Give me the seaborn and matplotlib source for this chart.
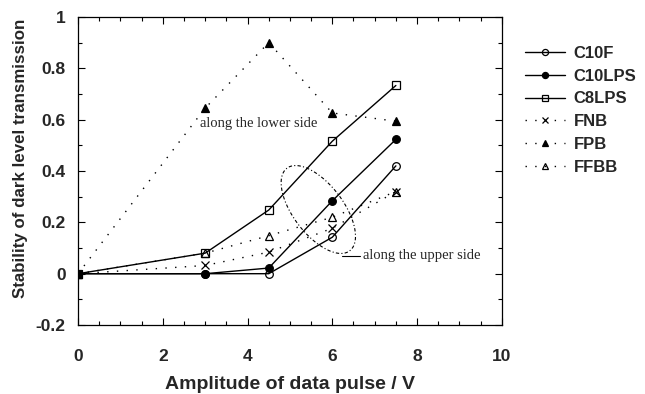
import numpy as np
import pandas as pd
import matplotlib
matplotlib.use("Agg")
import matplotlib.pyplot as plt
import seaborn as sns
from matplotlib.ticker import MultipleLocator

# Pulse amplitudes (V)
amplitude = [0.0, 3.0, 4.5, 6.0, 7.5]

# Stability of dark level transmission for each cell
c10f = [0.0, 0.0, 0.0, 0.142, 0.42]
c10lps = [0.0, 0.0, 0.022, 0.284, 0.523]
c8lps = [0.0, 0.08, 0.248, 0.516, 0.733]
fnb = [0.0, 0.032, 0.084, 0.177, 0.32]
fpb = [0.0, 0.645, 0.90, 0.626, 0.594]
ffbb = [0.0, 0.08, 0.148, 0.22, 0.32]

series_names = ["C10F", "C10LPS", "C8LPS", "FNB", "FPB", "FFBB"]
series_values = [c10f, c10lps, c8lps, fnb, fpb, ffbb]

dotted = (0, (1, 6))
styles = {
    "C10F":   dict(marker="o", mfc="none", ls="-"),
    "C10LPS": dict(marker="o", mfc="black", ls="-"),
    "C8LPS":  dict(marker="s", mfc="none", ls="-"),
    "FNB":    dict(marker="x", mfc="black", ls=dotted),
    "FPB":    dict(marker="^", mfc="black", ls=dotted),
    "FFBB":   dict(marker="^", mfc="none", ls=dotted),
}

df = pd.DataFrame({
    "amplitude": np.tile(amplitude, len(series_names)),
    "stability": np.concatenate(series_values),
    "cell": np.repeat(series_names, len(amplitude)),
})

sns.set_theme(style="ticks")
plt.rcParams["font.family"] = ["Liberation Sans", "DejaVu Sans"]

fig = plt.figure(figsize=(6.45, 3.94), dpi=100)
ax = fig.add_axes([0.121, 0.175, 0.657, 0.782])

for name in series_names:
    st = styles[name]
    sub = df[df["cell"] == name]
    sns.lineplot(data=sub, x="amplitude", y="stability", ax=ax, color="black",
                 linewidth=1.0, linestyle=st["ls"], marker=st["marker"],
                 markersize=5.5, markerfacecolor=st["mfc"],
                 markeredgecolor="black", markeredgewidth=0.9,
                 label=name, sort=False)

# Dotted ellipse grouping the points measured along the upper side
cx, cy = 5.67, 0.25
sx, sy = 42.3, 258.0  # px per data unit, so the ellipse is shaped in screen space
t = np.linspace(0, 2 * np.pi, 200)
a, b, th = 52.0, 25.0, np.deg2rad(-53)
ex = a * np.cos(t) * np.cos(th) - b * np.sin(t) * np.sin(th)
ey = a * np.cos(t) * np.sin(th) + b * np.sin(t) * np.cos(th)
ax.plot(cx + ex / sx, cy + ey / sy, color="black", lw=0.8, ls=(0, (1, 2, 3, 2)))
ax.plot([6.22, 6.65], [0.07, 0.07], color="black", lw=0.8)

ax.text(2.88, 0.585, "along the lower side", family="Liberation Serif",
        fontsize=10.5, va="center", ha="left")
ax.text(6.72, 0.07, "along the upper side", family="Liberation Serif",
        fontsize=10.5, va="center", ha="left")

ax.set_xlim(0, 10)
ax.set_ylim(-0.2, 1.0)
ax.xaxis.set_minor_locator(MultipleLocator(0.5))
ax.yaxis.set_minor_locator(MultipleLocator(0.1))
ax.set_xticks([0, 2, 4, 6, 8, 10])
ax.set_xticklabels(["0", "2", "4", "6", "8", "10"])
ax.set_yticks([-0.2, 0, 0.2, 0.4, 0.6, 0.8, 1.0])
ax.set_yticklabels(["-0.2", "0", "0.2", "0.4", "0.6", "0.8", "1"])
ax.tick_params(which="both", direction="in", top=True, right=True, color="black")
ax.tick_params(which="major", length=5, width=0.8)
ax.tick_params(which="minor", length=3, width=0.8)
ax.tick_params(axis="x", which="major", pad=17)
ax.tick_params(axis="y", which="major", pad=9)
for lab in ax.get_xticklabels() + ax.get_yticklabels():
    lab.set_fontweight("bold")
    lab.set_fontsize(12.5)
for sp in ax.spines.values():
    sp.set_color("black")
    sp.set_linewidth(0.9)

ax.set_xlabel("Amplitude of data pulse / V", fontsize=14, fontweight="bold", labelpad=9)
ax.set_ylabel("Stability of dark level transmission", fontsize=12.2, fontweight="bold")
ax.yaxis.set_label_coords(-0.118, 0.54)

ax.legend(loc="upper left", bbox_to_anchor=(1.02, 0.955), frameon=False,
          prop={"weight": "bold", "size": 12}, markerscale=0.8,
          handlelength=2.4, handletextpad=0.5, labelspacing=0.47)

fig.savefig("out.png", dpi=100)
